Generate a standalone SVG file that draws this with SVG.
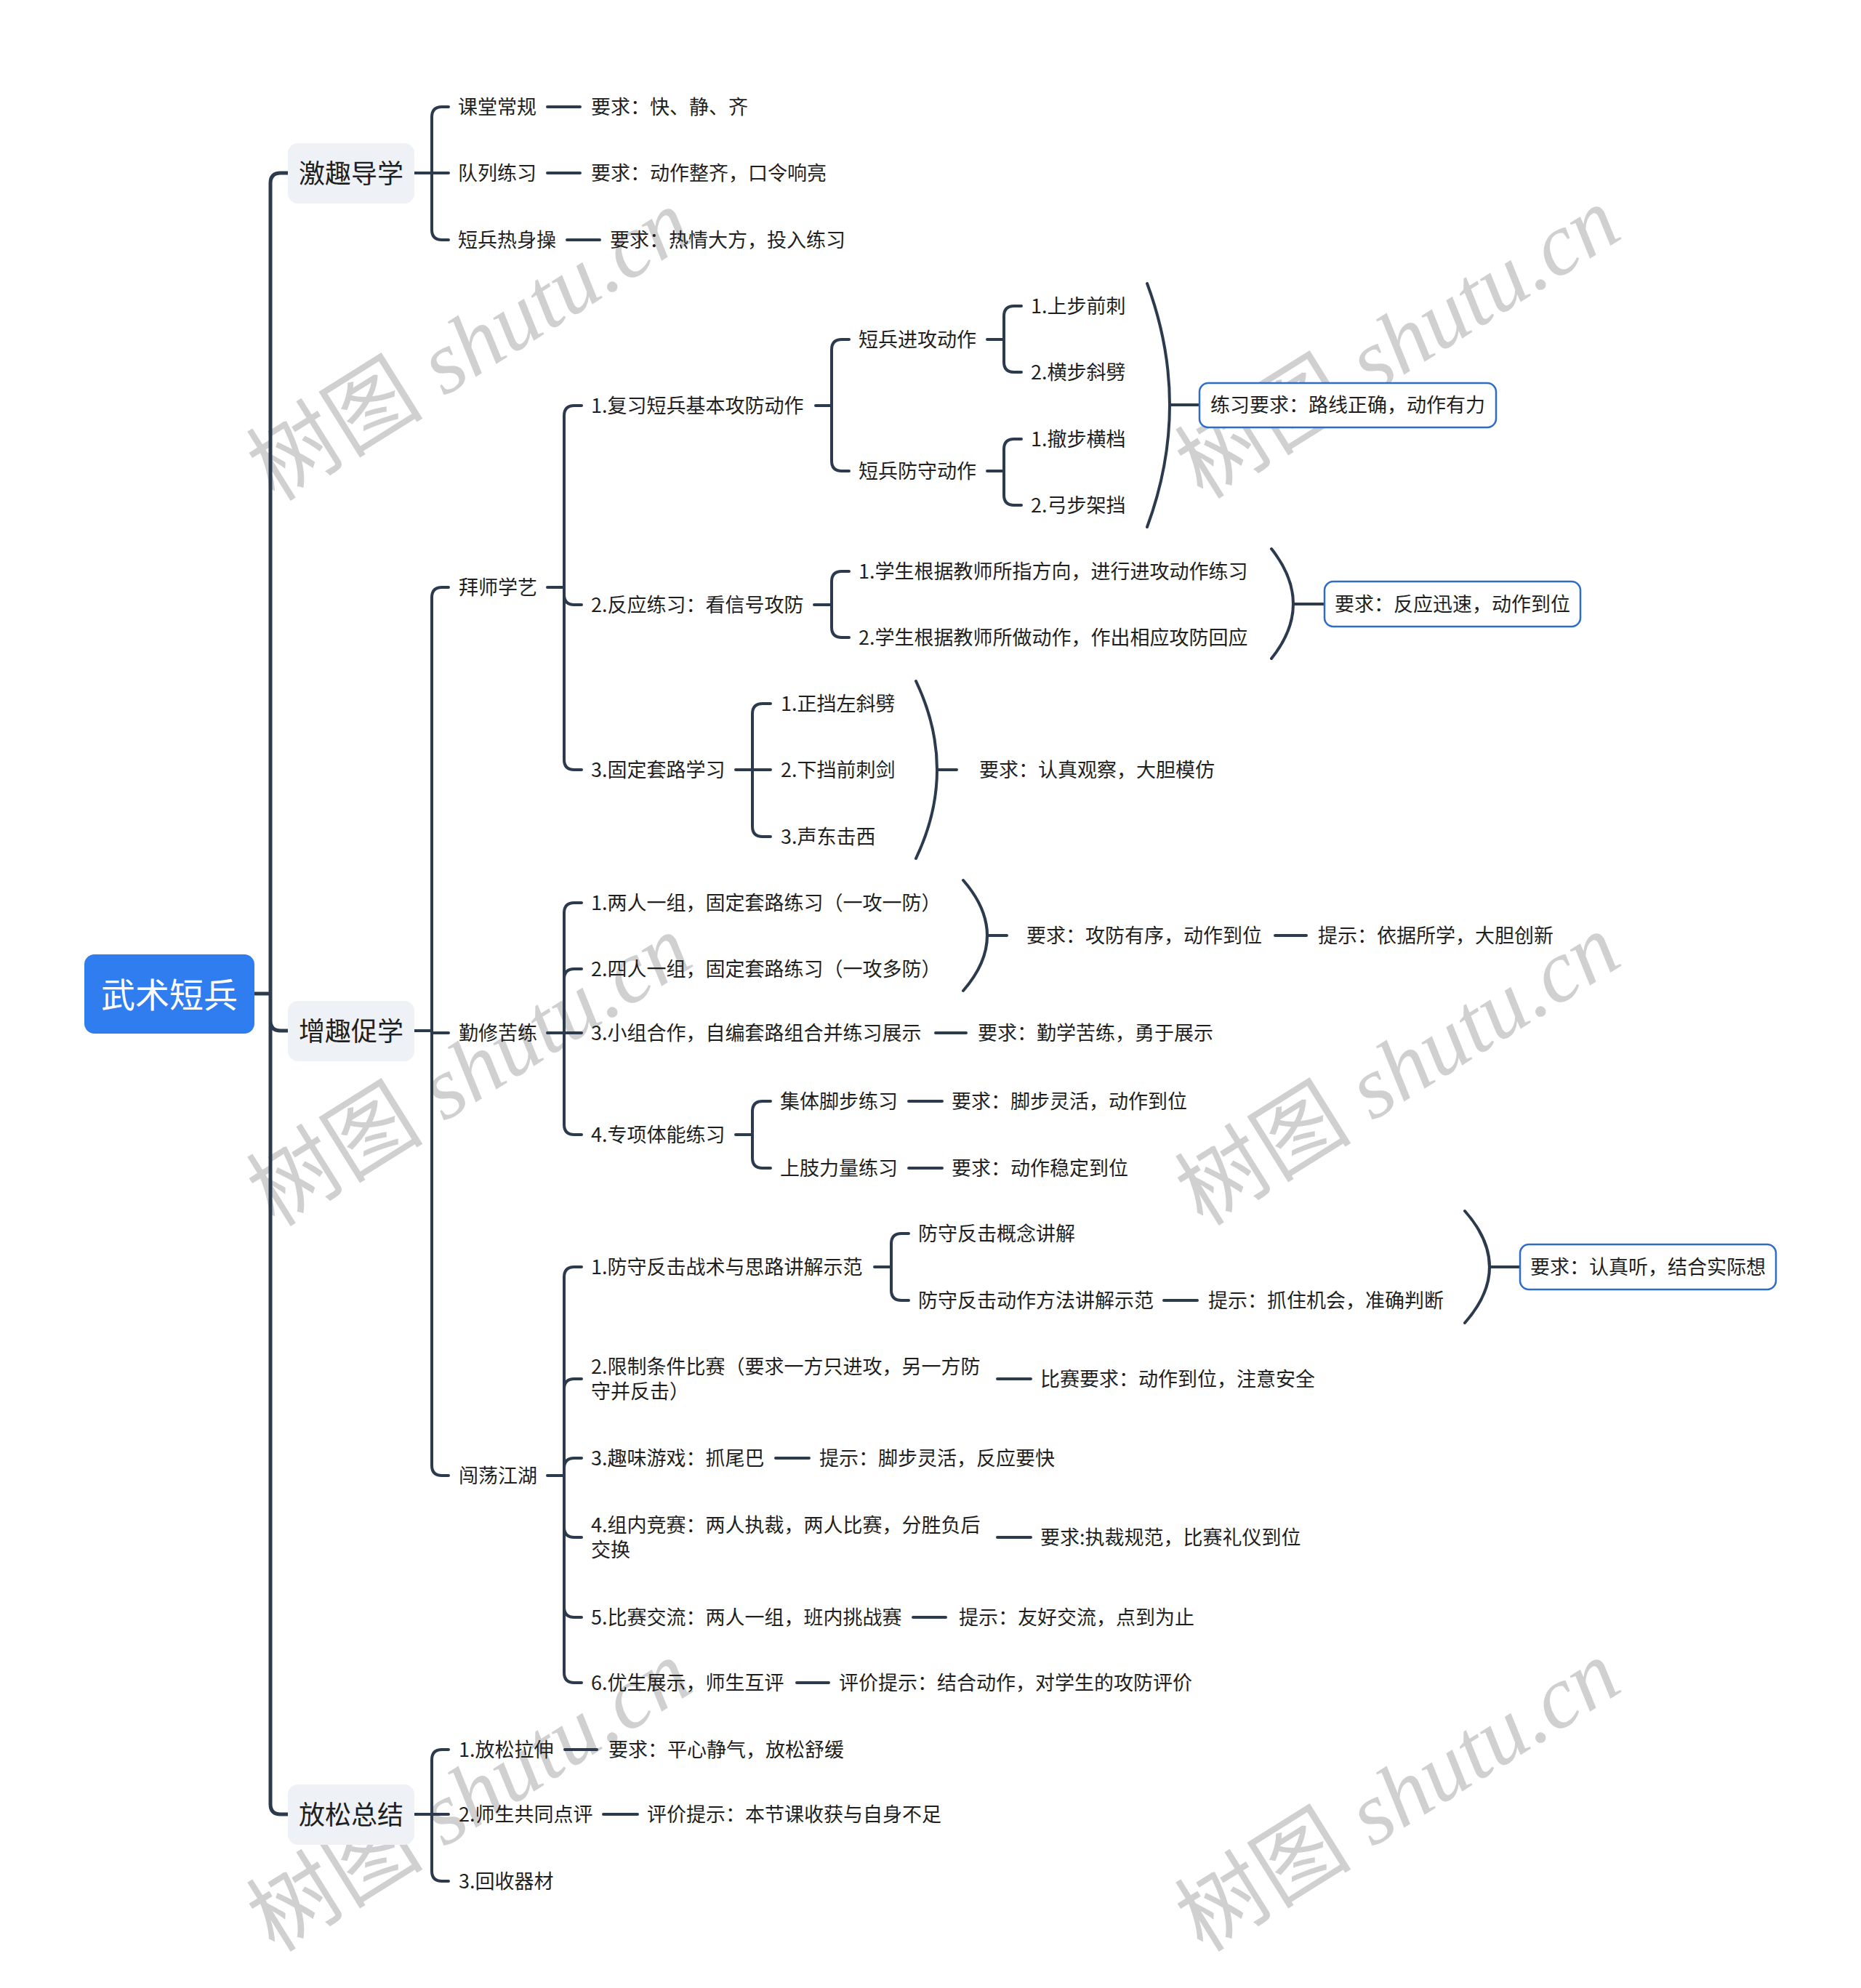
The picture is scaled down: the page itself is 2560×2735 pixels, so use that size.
<svg xmlns="http://www.w3.org/2000/svg" width="2560" height="2735" viewBox="0 0 2560 2735">
<style>
.t{font-family:"Noto Sans CJK SC","Noto Sans",sans-serif;font-size:27px;fill:#1f1f1f;dominant-baseline:central;transform:translate(0px,-2px)}
.l1{font-size:36px;text-anchor:middle}
.rt{font-size:47px;fill:#ffffff;text-anchor:middle}
.c{fill:none;stroke:#2c3a4e;stroke-width:4;stroke-linecap:round}
.tr{stroke-width:5}
.bx{fill:#ffffff;stroke:#2f6cc8;stroke-width:2.5}
.l1b{fill:#eef1f5}
.wm{fill:#d0d0d0;font-size:122px}
.wc{font-family:"Noto Sans CJK SC",sans-serif}
.ws{font-family:"Liberation Serif",serif;font-style:italic}
</style>
<rect width="2560" height="2735" fill="#ffffff"/>
<g id="watermarks">
<text class="wm" transform="translate(668,510) rotate(-32)" text-anchor="middle"><tspan class="wc">树图</tspan><tspan class="ws"> shutu.cn</tspan></text>
<text class="wm" transform="translate(1945,507) rotate(-32)" text-anchor="middle"><tspan class="wc">树图</tspan><tspan class="ws"> shutu.cn</tspan></text>
<text class="wm" transform="translate(668,1508) rotate(-32)" text-anchor="middle"><tspan class="wc">树图</tspan><tspan class="ws"> shutu.cn</tspan></text>
<text class="wm" transform="translate(1945,1507) rotate(-32)" text-anchor="middle"><tspan class="wc">树图</tspan><tspan class="ws"> shutu.cn</tspan></text>
<text class="wm" transform="translate(668,2506) rotate(-32)" text-anchor="middle"><tspan class="wc">树图</tspan><tspan class="ws"> shutu.cn</tspan></text>
<text class="wm" transform="translate(1945,2506) rotate(-32)" text-anchor="middle"><tspan class="wc">树图</tspan><tspan class="ws"> shutu.cn</tspan></text>
</g>
<g id="connectors">
<path class="c tr" d="M350,1367 H372 M372,1367 V252 Q372,238 386,238 H396 M372,1367 V1404 Q372,1418 386,1418 H396 M372,1367 V2482 Q372,2496 386,2496 H396"/>
<path class="c" d="M570,238 H594 M594,238 V161 Q594,147 608,147 H617 M594,238 H617 M594,238 V316 Q594,330 608,330 H617 M753,147 H798 M753,238 H798 M780,330 H825"/>
<path class="c" d="M570,1418 H594 M594,1418 V822 Q594,808 608,808 H617 M594,1418 V1421 H617 M594,1418 V2016 Q594,2030 608,2030 H617"/>
<path class="c" d="M753,808 H776 M776,808 V572 Q776,558 790,558 H800 M776,808 V818 Q776,832 790,832 H800 M776,808 V1045 Q776,1059 790,1059 H800"/>
<path class="c" d="M1122,558 H1144 M1144,558 V481 Q1144,467 1158,467 H1168 M1144,558 V634 Q1144,648 1158,648 H1168"/>
<path class="c" d="M1358,467 H1381 M1381,467 V435 Q1381,421 1395,421 H1405 M1381,467 V498 Q1381,512 1395,512 H1405"/>
<path class="c" d="M1358,648 H1381 M1381,648 V618 Q1381,604 1395,604 H1405 M1381,648 V681 Q1381,695 1395,695 H1405"/>
<path class="c" d="M1578,390 Q1640,557 1578,725 M1609,557 H1650"/>
<path class="c" d="M1120,832 H1144 M1144,832 V800 Q1144,786 1158,786 H1168 M1144,832 V863 Q1144,877 1158,877 H1168"/>
<path class="c" d="M1749,755 Q1809,831 1749,906 M1779,831 H1822"/>
<path class="c" d="M1012,1059 H1035 M1035,1059 V982 Q1035,968 1049,968 H1060 M1035,1059 H1060 M1035,1059 V1137 Q1035,1151 1049,1151 H1060"/>
<path class="c" d="M1260,937 Q1318,1059 1260,1181 M1289,1059 H1316"/>
<path class="c" d="M753,1421 H776 M776,1421 V1256 Q776,1242 790,1242 H800 M776,1421 V1347 Q776,1333 790,1333 H800 M776,1421 H800 M776,1421 V1547 Q776,1561 790,1561 H800"/>
<path class="c" d="M1325,1211 Q1391,1287 1325,1363 M1358,1287 H1385 M1754,1287 H1797 M1287,1421 H1329"/>
<path class="c" d="M1012,1561 H1035 M1035,1561 V1529 Q1035,1515 1049,1515 H1060 M1035,1561 V1593 Q1035,1607 1049,1607 H1060 M1250,1515 H1296 M1250,1607 H1296"/>
<path class="c" d="M753,2030 H776 M776,2030 V1757 Q776,1743 790,1743 H800 M776,2030 V1911 Q776,1897 790,1897 H800 M776,2030 V2020 Q776,2006 790,2006 H800 M776,2030 V2101 Q776,2115 790,2115 H800 M776,2030 V2211 Q776,2225 790,2225 H800 M776,2030 V2301 Q776,2315 790,2315 H800"/>
<path class="c" d="M1203,1743 H1226 M1226,1743 V1711 Q1226,1697 1240,1697 H1250 M1226,1743 V1775 Q1226,1789 1240,1789 H1250 M1601,1789 H1647"/>
<path class="c" d="M2015,1666 Q2083,1743 2015,1820 M2049,1743 H2091"/>
<path class="c" d="M1372,1897 H1418 M1067,2006 H1113 M1372,2115 H1418 M1256,2225 H1301 M1096,2315 H1140"/>
<path class="c" d="M570,2496 H594 M594,2496 V2421 Q594,2407 608,2407 H617 M594,2496 H617 M594,2496 V2574 Q594,2588 608,2588 H617 M777,2407 H821 M830,2496 H877"/>
</g>
<g id="root"><rect x="116" y="1313" width="234" height="109" rx="14" fill="#307df0"/><text class="t rt" x="233" y="1367">武术短兵</text></g>
<g id="n-jiqu"><rect class="l1b" x="396" y="197" width="174" height="83" rx="14"/><text class="t l1" x="483" y="238">激趣导学</text></g>
<g id="n-zengqu"><rect class="l1b" x="396" y="1377" width="174" height="83" rx="14"/><text class="t l1" x="483" y="1418">增趣促学</text></g>
<g id="n-fangsong"><rect class="l1b" x="396" y="2455" width="174" height="83" rx="14"/><text class="t l1" x="483" y="2496">放松总结</text></g>
<g id="n-ketang"><text class="t" x="630" y="147">课堂常规</text></g>
<g id="n-ketang-r"><text class="t" x="813" y="147">要求：快、静、齐</text></g>
<g id="n-duilie"><text class="t" x="630" y="238">队列练习</text></g>
<g id="n-duilie-r"><text class="t" x="813" y="238">要求：动作整齐，口令响亮</text></g>
<g id="n-reshen"><text class="t" x="630" y="330">短兵热身操</text></g>
<g id="n-reshen-r"><text class="t" x="839" y="330">要求：热情大方，投入练习</text></g>
<g id="n-baishi"><text class="t" x="631" y="808">拜师学艺</text></g>
<g id="n-fuxi"><text class="t" x="813" y="558">1.复习短兵基本攻防动作</text></g>
<g id="n-jingong"><text class="t" x="1181" y="467">短兵进攻动作</text></g>
<g id="n-fangshou"><text class="t" x="1181" y="648">短兵防守动作</text></g>
<g id="n-shangbu"><text class="t" x="1418" y="421">1.上步前刺</text></g>
<g id="n-hengbu"><text class="t" x="1418" y="512">2.横步斜劈</text></g>
<g id="n-chebu"><text class="t" x="1418" y="604">1.撤步横档</text></g>
<g id="n-gongbu"><text class="t" x="1418" y="695">2.弓步架挡</text></g>
<g id="n-lianxi"><rect class="bx" x="1650" y="527" width="408" height="61" rx="12"/><text class="t" x="1665" y="557">练习要求：路线正确，动作有力</text></g>
<g id="n-fanying"><text class="t" x="813" y="832">2.反应练习：看信号攻防</text></g>
<g id="n-fy1"><text class="t" x="1181" y="786">1.学生根据教师所指方向，进行进攻动作练习</text></g>
<g id="n-fy2"><text class="t" x="1181" y="877">2.学生根据教师所做动作，作出相应攻防回应</text></g>
<g id="n-fy-r"><rect class="bx" x="1822" y="800" width="352" height="62" rx="12"/><text class="t" x="1836" y="831">要求：反应迅速，动作到位</text></g>
<g id="n-guding"><text class="t" x="813" y="1059">3.固定套路学习</text></g>
<g id="n-gd1"><text class="t" x="1074" y="968">1.正挡左斜劈</text></g>
<g id="n-gd2"><text class="t" x="1074" y="1059">2.下挡前刺剑</text></g>
<g id="n-gd3"><text class="t" x="1074" y="1151">3.声东击西</text></g>
<g id="n-gd-r"><text class="t" x="1347" y="1059">要求：认真观察，大胆模仿</text></g>
<g id="n-qinxiu"><text class="t" x="631" y="1421">勤修苦练</text></g>
<g id="n-qx1"><text class="t" x="813" y="1242">1.两人一组，固定套路练习（一攻一防）</text></g>
<g id="n-qx2"><text class="t" x="813" y="1333">2.四人一组，固定套路练习（一攻多防）</text></g>
<g id="n-qx12-r"><text class="t" x="1412" y="1287">要求：攻防有序，动作到位</text></g>
<g id="n-qx12-r2"><text class="t" x="1813" y="1287">提示：依据所学，大胆创新</text></g>
<g id="n-qx3"><text class="t" x="813" y="1421">3.小组合作，自编套路组合并练习展示</text></g>
<g id="n-qx3-r"><text class="t" x="1345" y="1421">要求：勤学苦练，勇于展示</text></g>
<g id="n-qx4"><text class="t" x="813" y="1561">4.专项体能练习</text></g>
<g id="n-jiaobu"><text class="t" x="1073" y="1515">集体脚步练习</text></g>
<g id="n-jiaobu-r"><text class="t" x="1309" y="1515">要求：脚步灵活，动作到位</text></g>
<g id="n-shangzhi"><text class="t" x="1073" y="1607">上肢力量练习</text></g>
<g id="n-shangzhi-r"><text class="t" x="1309" y="1607">要求：动作稳定到位</text></g>
<g id="n-chuangdang"><text class="t" x="631" y="2030">闯荡江湖</text></g>
<g id="n-cd1"><text class="t" x="813" y="1743">1.防守反击战术与思路讲解示范</text></g>
<g id="n-cd1a"><text class="t" x="1263" y="1697">防守反击概念讲解</text></g>
<g id="n-cd1b"><text class="t" x="1263" y="1789">防守反击动作方法讲解示范</text></g>
<g id="n-cd1b-r"><text class="t" x="1662" y="1789">提示：抓住机会，准确判断</text></g>
<g id="n-cd1-r"><rect class="bx" x="2091" y="1712" width="352" height="62" rx="12"/><text class="t" x="2105" y="1743">要求：认真听，结合实际想</text></g>
<g id="n-cd2"><text class="t" x="813" y="1880">2.限制条件比赛（要求一方只进攻，另一方防<tspan x="813" y="1914">守并反击）</tspan></text></g>
<g id="n-cd2-r"><text class="t" x="1431" y="1897">比赛要求：动作到位，注意安全</text></g>
<g id="n-cd3"><text class="t" x="813" y="2006">3.趣味游戏：抓尾巴</text></g>
<g id="n-cd3-r"><text class="t" x="1127" y="2006">提示：脚步灵活，反应要快</text></g>
<g id="n-cd4"><text class="t" x="813" y="2098">4.组内竞赛：两人执裁，两人比赛，分胜负后<tspan x="813" y="2132">交换</tspan></text></g>
<g id="n-cd4-r"><text class="t" x="1431" y="2115">要求:执裁规范，比赛礼仪到位</text></g>
<g id="n-cd5"><text class="t" x="813" y="2225">5.比赛交流：两人一组，班内挑战赛</text></g>
<g id="n-cd5-r"><text class="t" x="1319" y="2225">提示：友好交流，点到为止</text></g>
<g id="n-cd6"><text class="t" x="813" y="2315">6.优生展示，师生互评</text></g>
<g id="n-cd6-r"><text class="t" x="1154" y="2315">评价提示：结合动作，对学生的攻防评价</text></g>
<g id="n-fs1"><text class="t" x="631" y="2407">1.放松拉伸</text></g>
<g id="n-fs1-r"><text class="t" x="837" y="2407">要求：平心静气，放松舒缓</text></g>
<g id="n-fs2"><text class="t" x="631" y="2496">2.师生共同点评</text></g>
<g id="n-fs2-r"><text class="t" x="890" y="2496">评价提示：本节课收获与自身不足</text></g>
<g id="n-fs3"><text class="t" x="631" y="2588">3.回收器材</text></g>
</svg>
